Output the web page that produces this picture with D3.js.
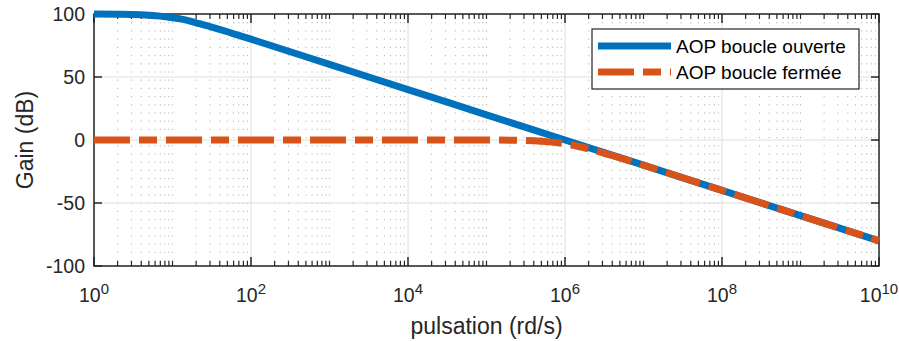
<!DOCTYPE html>
<html>
<head>
<meta charset="utf-8">
<script src="https://cdn.jsdelivr.net/npm/d3@7"></script>
<style>
  html, body { margin: 0; padding: 0; background: #fff; }
  svg { display: block; font-family: "Liberation Sans", Arial, Helvetica, sans-serif; }
</style>
</head>
<body>
<div id="chart"></div>
<script>
// open loop gain (dB)
const pulsationOL = [1, 2, 3, 5, 7, 10, 15, 20, 30, 50, 70, 100, 1e3, 1e4, 1e5, 1e6, 1e7, 1e8, 1e9, 1e10];
const gainOL = [100, 99.8, 99.6, 99.0, 98.3, 97, 95.1, 93, 90, 85.9, 83, 80, 60, 40, 20, 0, -20, -40, -60, -80];

// closed loop gain (dB)
const pulsationCL = [1, 1e3, 1e5, 2e5, 5e5, 1e6, 2e6, 5e6, 1e7, 1e8, 1e9, 1e10];
const gainCL = [0, 0, -0.04, -0.17, -0.97, -3, -7, -14.2, -20, -40, -60, -80];

const yTicks = [-100, -50, 0, 50, 100];
const xTickExponents = [0, 2, 4, 6, 8, 10];
const legendLabels = ["AOP boucle ouverte", "AOP boucle fermée"];

const W = 899, H = 341;
const margin = { top: 14, right: 20, bottom: 75, left: 94 };
const width = W - margin.left - margin.right;
const height = H - margin.top - margin.bottom;

const blue = "#0072BD", orange = "#D95319", ink = "#262626";
const dashOrange = "36,9,18,9";

const svg = d3.select("#chart").append("svg")
  .attr("width", W)
  .attr("height", H);

const g = svg.append("g")
  .attr("transform", `translate(${margin.left},${margin.top})`);

const x = d3.scaleLog().domain([1, 1e10]).range([0, width]);
const y = d3.scaleLinear().domain([-100, 100]).range([height, 0]);

// minor decades ticks (2..9 x 10^k, plus odd decades)
const minorTicks = [];
for (let k = 0; k < 10; k++) {
  for (let m = 2; m <= 10; m++) {
    const v = m * Math.pow(10, k);
    if (m === 10 && (k + 1) % 2 === 0) continue;
    minorTicks.push(v);
  }
}
const majorTicks = xTickExponents.map(e => Math.pow(10, e));

// Grid
g.append("g").selectAll("line")
  .data(minorTicks)
  .enter().append("line")
  .attr("x1", d => x(d)).attr("x2", d => x(d))
  .attr("y1", 0).attr("y2", height)
  .attr("stroke", "#b4b4b4")
  .attr("stroke-width", 1)
  .attr("stroke-dasharray", "1.2,7");

g.append("g").selectAll("line")
  .data(majorTicks)
  .enter().append("line")
  .attr("x1", d => x(d)).attr("x2", d => x(d))
  .attr("y1", 0).attr("y2", height)
  .attr("stroke", "#dedede")
  .attr("stroke-width", 1);

g.append("g").selectAll("line")
  .data(yTicks)
  .enter().append("line")
  .attr("x1", 0).attr("x2", width)
  .attr("y1", d => y(d)).attr("y2", d => y(d))
  .attr("stroke", "#dedede")
  .attr("stroke-width", 1);

// Axes box + inward ticks
const axisG = g.append("g").attr("stroke", ink).attr("stroke-width", 1.5);
axisG.append("rect")
  .attr("x", 0).attr("y", 0)
  .attr("width", width).attr("height", height)
  .attr("fill", "none");

[[0, 1], [height, -1]].forEach(([y0, dir]) => {
  axisG.append("g").selectAll("line")
    .data(minorTicks)
    .enter().append("line")
    .attr("x1", d => x(d)).attr("x2", d => x(d))
    .attr("y1", y0).attr("y2", y0 + dir * 5)
    .attr("stroke-width", 1.2);
  axisG.append("g").selectAll("line")
    .data(majorTicks)
    .enter().append("line")
    .attr("x1", d => x(d)).attr("x2", d => x(d))
    .attr("y1", y0).attr("y2", y0 + dir * 9)
    .attr("stroke-width", 1.5);
});
[[0, 1], [width, -1]].forEach(([x0, dir]) => {
  axisG.append("g").selectAll("line")
    .data(yTicks)
    .enter().append("line")
    .attr("x1", x0).attr("x2", x0 + dir * 8)
    .attr("y1", d => y(d)).attr("y2", d => y(d));
});

// Tick labels
g.append("g").selectAll("text")
  .data(yTicks)
  .enter().append("text")
  .attr("x", -9)
  .attr("y", d => y(d))
  .attr("dy", "0.35em")
  .attr("text-anchor", "end")
  .attr("fill", ink)
  .style("font-size", "19.5px")
  .text(d => d);

const xl = g.append("g").selectAll("text")
  .data(xTickExponents)
  .enter().append("text")
  .attr("x", d => x(Math.pow(10, d)))
  .attr("y", height + 36)
  .attr("text-anchor", "middle")
  .attr("fill", ink)
  .style("font-size", "19.5px");
xl.append("tspan").text("10");
xl.append("tspan")
  .attr("dy", -8)
  .style("font-size", "15px")
  .text(d => d);

// Axis labels
g.append("text")
  .attr("x", width / 2)
  .attr("y", height + 68)
  .attr("text-anchor", "middle")
  .attr("fill", ink)
  .style("font-size", "23px")
  .text("pulsation (rd/s)");

svg.append("text")
  .attr("transform", `translate(33,${margin.top + y(0)}) rotate(-90)`)
  .attr("text-anchor", "middle")
  .attr("fill", ink)
  .style("font-size", "23px")
  .text("Gain (dB)");

// Curves
const line = d3.line()
  .x(d => x(d[0]))
  .y(d => y(d[1]))
  .curve(d3.curveMonotoneX);

g.append("path")
  .datum(d3.zip(pulsationOL, gainOL))
  .attr("fill", "none")
  .attr("stroke", blue)
  .attr("stroke-width", 7)
  .attr("d", line);

g.append("path")
  .datum(d3.zip(pulsationCL, gainCL))
  .attr("fill", "none")
  .attr("stroke", orange)
  .attr("stroke-width", 7)
  .attr("stroke-dasharray", dashOrange)
  .attr("d", line);

// Legend
const lg = svg.append("g").attr("transform", "translate(592,29)");
lg.append("rect")
  .attr("width", 267).attr("height", 60)
  .attr("fill", "#fff")
  .attr("stroke", ink)
  .attr("stroke-width", 1.2);
const rows = lg.selectAll("g.row")
  .data(legendLabels)
  .enter().append("g")
  .attr("class", "row")
  .attr("transform", (d, i) => `translate(0,${17 + i * 26})`);
rows.append("line")
  .attr("x1", 6).attr("x2", 79)
  .attr("stroke", (d, i) => i === 0 ? blue : orange)
  .attr("stroke-width", 7)
  .attr("stroke-dasharray", (d, i) => i === 0 ? null : dashOrange);
rows.append("text")
  .attr("x", 84)
  .attr("dy", "0.35em")
  .attr("fill", "#000")
  .style("font-size", "19px")
  .text(d => d);
</script>
</body>
</html>
